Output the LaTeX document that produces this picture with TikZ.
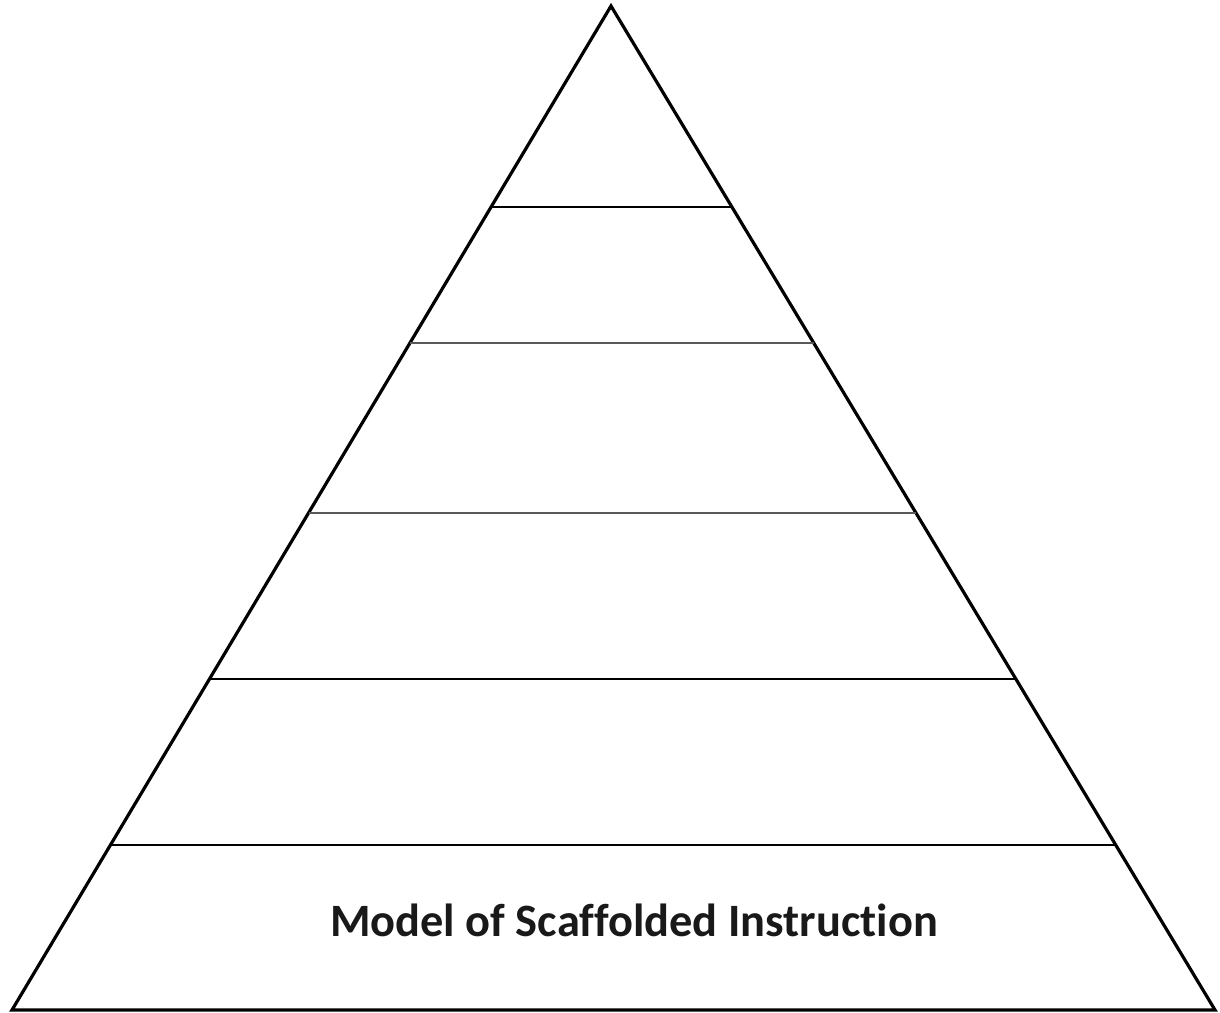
\documentclass[tikz,border=0pt]{standalone}
\usepackage{fontspec}
\setmainfont{Carlito}[Ligatures=NoCommon]
\usetikzlibrary{calc}
\begin{document}
\begin{tikzpicture}[x=0.75pt,y=-0.75pt,
  edge/.style={line width=2.4pt,black,line join=miter},
  tier/.style={line width=1.8pt,black},
  tiergray/.style={line width=2pt,black!65},
  label/.style={font=\bfseries\fontsize{34.8}{42}\selectfont,anchor=base,inner sep=0pt,text=black!90}]
\useasboundingbox (0,0) rectangle (1220,1013);
\coordinate (apex) at (611,6);
\coordinate (bl) at (12,1010);
\coordinate (br) at (1215,1010);
\draw[edge] (bl) -- (apex) -- (br) -- cycle;
% tier lines: t = (y-6)/1004
\coordinate (l1) at ($(apex)!0.2002!(bl)$); \coordinate (r1) at ($(apex)!0.2002!(br)$);
\coordinate (l2) at ($(apex)!0.3357!(bl)$); \coordinate (r2) at ($(apex)!0.3357!(br)$);
\coordinate (l3) at ($(apex)!0.5050!(bl)$); \coordinate (r3) at ($(apex)!0.5050!(br)$);
\coordinate (l4) at ($(apex)!0.6703!(bl)$); \coordinate (r4) at ($(apex)!0.6703!(br)$);
\coordinate (l5) at ($(apex)!0.8357!(bl)$); \coordinate (r5) at ($(apex)!0.8357!(br)$);
\draw[tier] (l1) -- (r1);
\draw[tiergray] (l2) -- (r2);
\draw[tiergray] (l3) -- (r3);
\draw[tier] (l4) -- (r4);
\draw[tier] (l5) -- (r5);
\node[label] (title) at (634,936) {Model of Scaffolded Instruction};
\end{tikzpicture}
\end{document}
